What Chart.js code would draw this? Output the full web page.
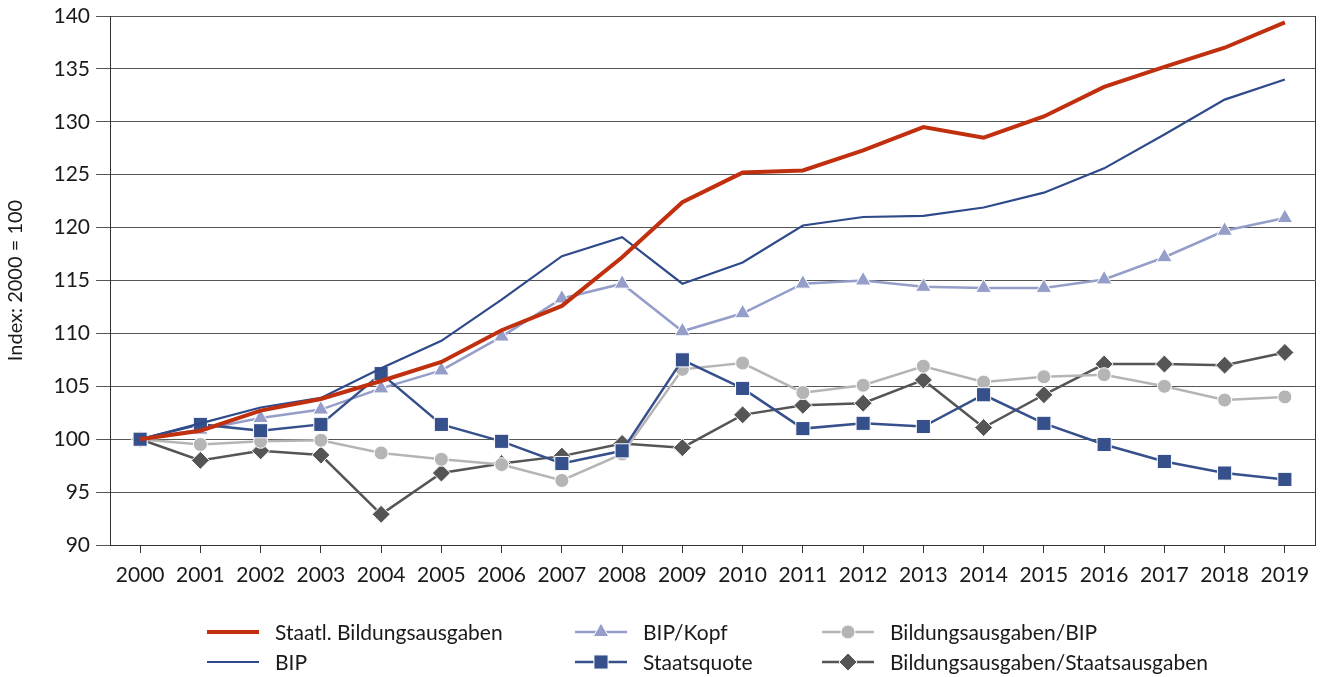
<!DOCTYPE html>
<html>
<head>
<meta charset="utf-8">
<script src="https://cdn.jsdelivr.net/npm/chart.js@4"></script>
<style>
  html, body { margin: 0; padding: 0; background: #fff; }
  #wrap { width: 1326px; height: 677px; }
</style>
</head>
<body>
<div id="wrap"><canvas id="indexChart" width="1326" height="677"></canvas></div>
<script>
// Jahre und Indexwerte (2000 = 100)
const years = ['2000','2001','2002','2003','2004','2005','2006','2007','2008','2009',
               '2010','2011','2012','2013','2014','2015','2016','2017','2018','2019'];

const staatlBildung = [100, 100.8, 102.7, 103.8, 105.5, 107.3, 110.3, 112.6, 117.2, 122.4,
                       125.2, 125.4, 127.3, 129.5, 128.5, 130.5, 133.3, 135.2, 137.0, 139.4];
const bip = [100, 101.5, 103.0, 103.9, 106.7, 109.3, 113.2, 117.3, 119.1, 114.7,
             116.7, 120.2, 121.0, 121.1, 121.9, 123.3, 125.6, 128.8, 132.1, 134.0];
const bipKopf = [100, 100.9, 102.0, 102.8, 104.8, 106.5, 109.7, 113.3, 114.7, 110.2,
                 111.9, 114.7, 115.0, 114.4, 114.3, 114.3, 115.1, 117.2, 119.7, 120.9];
const bildungBip = [100, 99.5, 99.8, 99.9, 98.7, 98.1, 97.6, 96.1, 98.6, 106.6,
                    107.2, 104.4, 105.1, 106.9, 105.4, 105.9, 106.1, 105.0, 103.7, 104.0];
const staatsquote = [100, 101.4, 100.8, 101.4, 106.2, 101.4, 99.8, 97.7, 98.9, 107.5,
                     104.8, 101.0, 101.5, 101.2, 104.2, 101.5, 99.5, 97.9, 96.8, 96.2];
const bildungStaat = [100, 98.0, 98.9, 98.5, 92.9, 96.8, 97.7, 98.4, 99.6, 99.2,
                      102.3, 103.2, 103.4, 105.6, 101.1, 104.2, 107.1, 107.1, 107.0, 108.2];

const FONT = 'Lato, "Noto Sans", sans-serif';
const ctx = document.getElementById('indexChart').getContext('2d');

function series(label, data, color, width, style, radius, order) {
    return {
        label: label,
        data: data,
        borderColor: color,
        backgroundColor: color,
        borderWidth: width,
        pointStyle: style,
        pointRadius: style ? radius : 0,
        pointHoverRadius: style ? radius : 0,
        pointBorderColor: '#ffffff',
        pointBorderWidth: 1,
        tension: 0,
        fill: false,
        order: order
    };
}

// Legend in 3 columns x 2 rows, drawn on the canvas
const legendPlugin = {
    id: 'gridLegend',
    afterDraw(chart) {
        const c = chart.ctx;
        const cols = [207, 575, 822];
        const rows = [632, 662];
        const layout = [[0, 0], [1, 0], [2, 0], [0, 1], [1, 1], [2, 1]];
        chart.data.datasets.forEach((ds, i) => {
            const x = cols[layout[i][0]];
            const y = rows[layout[i][1]];
            c.save();
            c.strokeStyle = ds.borderColor;
            c.lineWidth = ds.borderWidth;
            c.beginPath();
            c.moveTo(x, y);
            c.lineTo(x + 52, y);
            c.stroke();
            if (ds.pointStyle) {
                c.fillStyle = ds.backgroundColor;
                c.strokeStyle = '#ffffff';
                c.lineWidth = 1;
                Chart.helpers.drawPoint(c, {
                    pointStyle: ds.pointStyle,
                    radius: ds.pointRadius,
                    rotation: 0,
                    borderWidth: 1
                }, x + 26, y);
            }
            c.fillStyle = '#1a1a1a';
            c.font = '21px ' + FONT;
            c.textBaseline = 'middle';
            c.fillText(ds.label, x + 68, y + 1);
            c.restore();
        });
        // right frame line
        const a = chart.chartArea;
        c.save();
        c.strokeStyle = '#333';
        c.lineWidth = 1;
        c.beginPath();
        c.moveTo(Math.round(a.right) + 0.5, a.top);
        c.lineTo(Math.round(a.right) + 0.5, a.bottom);
        c.stroke();
        c.restore();
    }
};

new Chart(ctx, {
    type: 'line',
    data: {
        labels: years,
        datasets: [
            series('Staatl. Bildungsausgaben', staatlBildung, '#c0300f', 4, false, 0, 0),
            series('BIP/Kopf', bipKopf, '#959dc9', 2.5, 'triangle', 9, 3),
            series('Bildungsausgaben/BIP', bildungBip, '#b5b5b5', 2.5, 'circle', 7, 4),
            series('BIP', bip, '#2e4a8a', 2.2, false, 0, 1),
            series('Staatsquote', staatsquote, '#36508c', 2.5, 'rect', 10, 2),
            series('Bildungsausgaben/Staatsausgaben', bildungStaat, '#555555', 2.5, 'rectRot', 9, 5)
        ]
    },
    options: {
        responsive: false,
        animation: false,
        layout: { padding: { top: 4, right: 7, bottom: 87, left: 0 } },
        plugins: {
            legend: { display: false },
            tooltip: { enabled: false }
        },
        scales: {
            x: {
                offset: true,
                grid: {
                    offset: false,
                    drawOnChartArea: false,
                    drawTicks: true,
                    tickLength: 8,
                    color: '#333'
                },
                border: { color: '#333', width: 1 },
                ticks: {
                    color: '#1a1a1a',
                    font: { family: FONT, size: 21 },
                    padding: 10,
                    maxRotation: 0,
                    autoSkip: false
                },
                afterFit(scale) { scale.height = 45; }
            },
            y: {
                min: 90,
                max: 140,
                ticks: {
                    stepSize: 5,
                    color: '#1a1a1a',
                    font: { family: FONT, size: 21 },
                    padding: 6
                },
                grid: {
                    color: '#555',
                    lineWidth: 1,
                    tickLength: 14
                },
                border: { color: '#333', width: 1 },
                title: {
                    display: true,
                    text: 'Index: 2000 = 100',
                    color: '#1a1a1a',
                    font: { family: FONT, size: 20 },
                    padding: { top: 4, bottom: 0 }
                },
                afterFit(scale) {
                    scale.width = 110;
                    scale.paddingTop = 16;
                }
            }
        }
    },
    plugins: [legendPlugin]
});
</script>
</body>
</html>
